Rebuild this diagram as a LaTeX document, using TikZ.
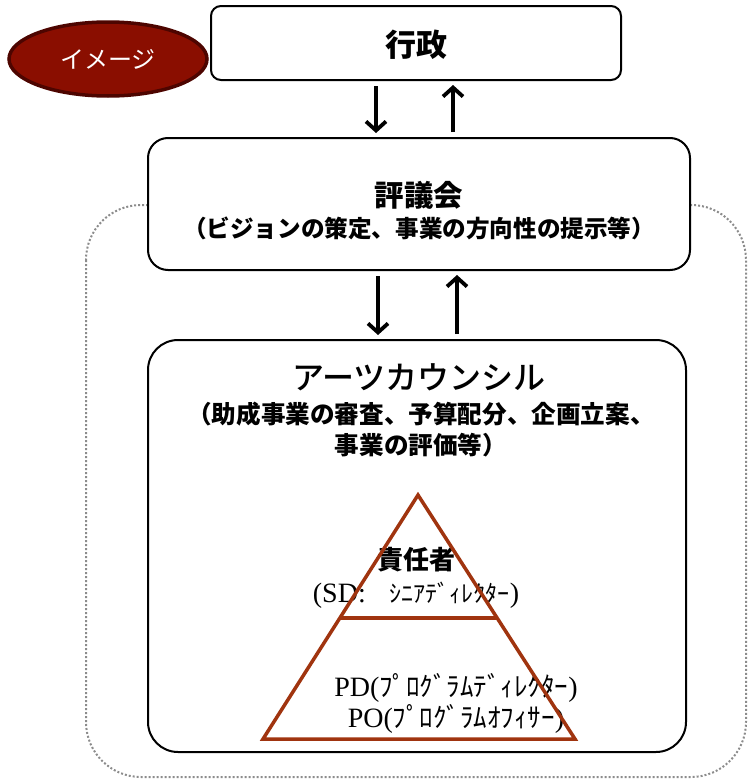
\documentclass[tikz,border=0pt]{standalone}
\usepackage{fontspec}
\setmainfont{Noto Sans CJK JP}
\newfontfamily\seriffont{Liberation Serif}
\newfontfamily\mediumfont{Noto Sans CJK JP Medium}
\usetikzlibrary{arrows.meta,shapes.geometric,calc}

\begin{document}
\begin{tikzpicture}[x=1pt, y=-1pt,
    box/.style={draw=black, line width=2pt, fill=white, rounded corners=#1, inner sep=0pt},
    flow_arrow/.style={-{Straight Barb[length=9pt, width=20pt, line width=3.8pt]}, line width=3.8pt, shorten <=5pt, shorten >=4pt},
    label_text/.style={inner sep=0pt, align=center},
]
    \definecolor{C_badge}{HTML}{8A0E00}
    \definecolor{C_badge_edge}{HTML}{4D0500}
    \definecolor{C_pyramid}{HTML}{A0340F}
    \definecolor{C_dots}{HTML}{8C8C8C}

    \useasboundingbox (0,0) rectangle (749,779);

    % dotted frame behind the council
    \path[draw=C_dots, line width=2pt, dash pattern=on 2pt off 2pt, rounded corners=55pt] (86,205) rectangle (746,777);

    \node[ellipse, draw=C_badge_edge, fill=C_badge, line width=3.5pt, minimum width=198pt, minimum height=74pt] (badge) at (108,59) {};
    \node[label_text, text=white, font=\fontsize{24}{28}\selectfont] (badge_text) at (badge.center) {イメージ};

    \node[box=10pt, minimum width=410pt, minimum height=74pt] (gyosei) at (416,43) {};
    \node[label_text, font=\bfseries\fontsize{31}{34}\selectfont] (gyosei_text) at (416,45) {行政};

    \node[box=20pt, minimum width=542pt, minimum height=132pt] (hyogikai) at (419,204) {};
    \node[label_text, font=\bfseries\fontsize{29.5}{32}\selectfont] (hyogikai_title) at (419,195) {評議会};
    \node[label_text, font=\bfseries\fontsize{23.6}{28}\selectfont] (hyogikai_sub) at (419,228) {（ビジョンの策定、事業の方向性の提示等）};

    \node[box=30pt, minimum width=538pt, minimum height=412pt] (council) at (417,546) {};
    \node[label_text, font=\mediumfont\fontsize{32}{36}\selectfont] (council_title) at (419,377) {アーツカウンシル};
    \node[label_text, font=\bfseries\fontsize{24.6}{31}\selectfont] (council_sub) at (421,430) {（助成事業の審査、予算配分、企画立案、\\事業の評価等）};

    % arrows
    \coordinate (down_top) at ([xshift=-40pt]gyosei.south);
    \coordinate (up_top) at ([xshift=37pt]gyosei.south);
    \coordinate (down_mid) at ([xshift=-41pt]hyogikai.south);
    \coordinate (up_mid) at ([xshift=38pt]hyogikai.south);
    \draw[flow_arrow] (down_top) -- (down_top |- hyogikai.north);
    \draw[flow_arrow] (up_top |- hyogikai.north) -- (up_top);
    \draw[flow_arrow] (down_mid) -- (down_mid |- council.north);
    \draw[flow_arrow] (up_mid |- council.north) -- (up_mid);

    % pyramid
    \node[label_text, font=\bfseries\fontsize{26}{30}\selectfont] (chief_text) at (416,560) {責任者};
    \node[label_text, font=\fontsize{24}{28}\selectfont] (sd_text) at (416,595) {{\seriffont\fontsize{28}{30}\selectfont (SD:}　ｼﾆｱﾃﾞｨﾚｸﾀｰ{\seriffont\fontsize{28}{30}\selectfont )}};
    \node[label_text, font=\fontsize{27}{30}\selectfont] (pd_text) at (456,688) {{\seriffont\fontsize{28}{30}\selectfont PD(}ﾌﾟﾛｸﾞﾗﾑﾃﾞｨﾚｸﾀｰ{\seriffont\fontsize{28}{30}\selectfont )}};
    \node[label_text, font=\fontsize{27}{30}\selectfont] (po_text) at (456,719) {{\seriffont\fontsize{28}{30}\selectfont PO(}ﾌﾟﾛｸﾞﾗﾑｵﾌｨｻｰ{\seriffont\fontsize{28}{30}\selectfont )}};

    \coordinate (apex) at (418,495);
    \coordinate (base_left) at (263,739);
    \coordinate (base_right) at (575,739);
    \path[draw=C_pyramid, line width=3.5pt] (apex) -- (base_left) -- (base_right) -- cycle;
    \path[draw=C_pyramid, line width=3.5pt] ($(apex)!0.504!(base_left)$) -- ($(apex)!0.504!(base_right)$);

\end{tikzpicture}
\end{document}
